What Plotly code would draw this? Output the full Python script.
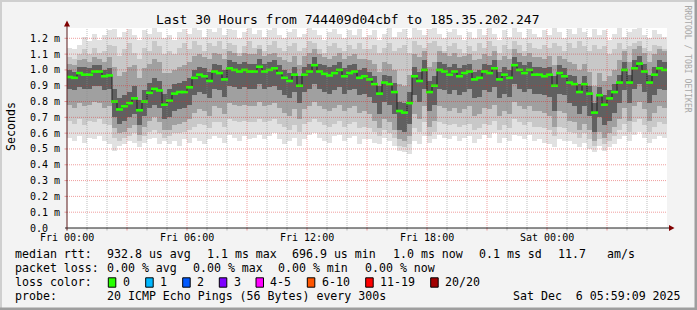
import plotly.graph_objects as go

# ---------------- data (milliseconds), one value per 15-minute step ----------------
step_hours = 0.25
median = [
    0.955, 0.95, 0.98, 0.97, 0.97, 0.99, 0.99, 0.96, 0.965, 0.80, 0.75, 0.77, 0.79, 0.82, 0.745, 0.80, 0.855, 0.88, 0.87, 0.78,
    0.805, 0.85, 0.86, 0.86, 0.89, 0.95, 0.97, 0.96, 0.93, 0.99, 0.98, 0.94, 1.01, 1.00, 0.99, 1.00, 0.99, 0.99, 1.02, 0.99,
    1.00, 1.01, 0.98, 0.95, 0.93, 0.97, 0.90, 0.97, 0.99, 1.03, 0.99, 0.975, 0.965, 0.98, 1.00, 0.96, 0.98, 0.99, 0.95, 0.96,
    0.94, 0.91, 0.85, 0.92, 0.91, 0.86, 0.74, 0.73, 0.79, 0.96, 0.93, 1.00, 0.86, 0.90, 1.00, 0.99, 0.97, 0.99, 0.96, 0.98,
    0.99, 0.94, 0.95, 0.99, 0.98, 1.01, 0.94, 0.97, 0.95, 1.03, 1.00, 0.98, 1.00, 0.97, 0.97, 0.96, 0.97, 0.90, 0.98, 0.96,
    0.92, 0.91, 0.86, 0.91, 0.85, 0.73, 0.84, 0.78, 0.82, 0.86, 0.92, 1.00, 0.92, 1.01, 1.04, 0.99, 0.92, 0.97, 1.01, 1.00,
]
smoke_max = [
    1.14, 1.13, 1.16, 1.21, 1.18, 1.23, 1.19, 1.22, 1.25, 1.26, 1.21, 1.24, 1.26, 1.22, 1.19, 1.25, 1.23, 1.27, 1.24, 1.20,
    1.22, 1.19, 1.24, 1.26, 1.23, 1.27, 1.25, 1.21, 1.26, 1.24, 1.27, 1.22, 1.26, 1.25, 1.20, 1.24, 1.27, 1.23, 1.25, 1.21,
    1.25, 1.27, 1.22, 1.20, 1.24, 1.26, 1.21, 1.23, 1.27, 1.25, 1.22, 1.19, 1.24, 1.26, 1.23, 1.20, 1.25, 1.22, 1.26, 1.21,
    1.22, 1.25, 1.19, 1.23, 1.27, 1.21, 1.24, 1.26, 1.20, 1.27, 1.25, 1.22, 1.26, 1.27, 1.23, 1.20, 1.24, 1.26, 1.22, 1.19,
    1.24, 1.20, 1.26, 1.22, 1.27, 1.23, 1.19, 1.25, 1.21, 1.27, 1.24, 1.20, 1.26, 1.23, 1.21, 1.25, 1.22, 1.27, 1.24, 1.20,
    1.26, 1.23, 1.27, 1.24, 1.21, 1.26, 1.22, 1.25, 1.19, 1.23, 1.27, 1.21, 1.24, 1.26, 1.27, 1.22, 1.20, 1.25, 1.23, 1.21,
]
smoke_hi2 = [
    1.08, 1.07, 1.10, 1.13, 1.10, 1.14, 1.11, 1.12, 1.16, 1.15, 1.09, 1.13, 1.17, 1.11, 1.07, 1.14, 1.12, 1.18, 1.15, 1.10,
    1.12, 1.10, 1.14, 1.17, 1.13, 1.18, 1.16, 1.12, 1.17, 1.15, 1.18, 1.13, 1.17, 1.16, 1.11, 1.15, 1.18, 1.14, 1.16, 1.12,
    1.16, 1.18, 1.14, 1.12, 1.15, 1.17, 1.12, 1.14, 1.18, 1.17, 1.13, 1.11, 1.15, 1.17, 1.14, 1.12, 1.16, 1.13, 1.17, 1.13,
    1.13, 1.16, 1.11, 1.14, 1.17, 1.12, 1.14, 1.16, 1.11, 1.18, 1.16, 1.14, 1.17, 1.18, 1.15, 1.12, 1.15, 1.17, 1.13, 1.11,
    1.15, 1.12, 1.17, 1.14, 1.18, 1.15, 1.11, 1.16, 1.13, 1.18, 1.16, 1.12, 1.17, 1.14, 1.13, 1.16, 1.14, 1.17, 1.15, 1.12,
    1.17, 1.14, 1.18, 1.15, 1.12, 1.16, 1.13, 1.15, 1.10, 1.13, 1.17, 1.13, 1.15, 1.17, 1.18, 1.14, 1.12, 1.16, 1.15, 1.13,
]
smoke_hi3 = [
    1.04, 1.03, 1.06, 1.07, 1.05, 1.08, 1.07, 1.05, 1.08, 1.02, 0.96, 0.99, 1.02, 1.03, 0.95, 1.01, 1.04, 1.07, 1.05, 0.98,
    0.98, 1.00, 1.02, 1.03, 1.05, 1.09, 1.10, 1.08, 1.07, 1.11, 1.10, 1.07, 1.12, 1.11, 1.09, 1.11, 1.10, 1.10, 1.13, 1.09,
    1.10, 1.11, 1.08, 1.06, 1.05, 1.09, 1.03, 1.09, 1.11, 1.13, 1.10, 1.08, 1.07, 1.09, 1.11, 1.07, 1.09, 1.10, 1.07, 1.07,
    1.06, 1.04, 0.99, 1.05, 1.04, 1.00, 0.91, 0.90, 0.97, 1.10, 1.08, 1.12, 1.02, 1.05, 1.12, 1.11, 1.09, 1.11, 1.08, 1.09,
    1.10, 1.06, 1.07, 1.10, 1.09, 1.12, 1.06, 1.09, 1.07, 1.13, 1.11, 1.09, 1.11, 1.08, 1.08, 1.07, 1.09, 1.03, 1.09, 1.07,
    1.05, 1.04, 1.00, 1.04, 0.99, 0.90, 0.98, 0.93, 0.96, 1.00, 1.06, 1.12, 1.05, 1.13, 1.15, 1.11, 1.05, 1.10, 1.13, 1.12,
]
smoke_hi4 = [
    1.00, 0.99, 1.02, 1.02, 1.01, 1.03, 1.03, 1.00, 1.01, 0.88, 0.82, 0.84, 0.86, 0.90, 0.81, 0.87, 0.92, 0.95, 0.93, 0.85,
    0.88, 0.91, 0.92, 0.93, 0.95, 1.00, 1.02, 1.01, 0.99, 1.04, 1.03, 1.00, 1.06, 1.05, 1.04, 1.05, 1.04, 1.04, 1.07, 1.04,
    1.05, 1.06, 1.03, 1.00, 0.98, 1.02, 0.96, 1.02, 1.04, 1.08, 1.04, 1.03, 1.02, 1.03, 1.05, 1.01, 1.03, 1.04, 1.00, 1.01,
    0.99, 0.96, 0.90, 0.97, 0.96, 0.92, 0.80, 0.79, 0.86, 1.02, 0.99, 1.06, 0.93, 0.96, 1.05, 1.04, 1.02, 1.04, 1.01, 1.03,
    1.04, 0.99, 1.00, 1.04, 1.03, 1.06, 0.99, 1.02, 1.00, 1.08, 1.05, 1.03, 1.05, 1.02, 1.02, 1.01, 1.02, 0.96, 1.03, 1.01,
    0.97, 0.96, 0.91, 0.96, 0.90, 0.79, 0.89, 0.84, 0.87, 0.91, 0.97, 1.05, 0.97, 1.06, 1.09, 1.04, 0.97, 1.02, 1.06, 1.05,
]
smoke_lo4 = [
    0.88, 0.87, 0.89, 0.88, 0.88, 0.90, 0.90, 0.87, 0.88, 0.70, 0.66, 0.68, 0.70, 0.72, 0.65, 0.71, 0.76, 0.78, 0.76, 0.69,
    0.70, 0.74, 0.75, 0.76, 0.78, 0.84, 0.86, 0.85, 0.82, 0.88, 0.87, 0.83, 0.90, 0.89, 0.88, 0.89, 0.88, 0.88, 0.91, 0.88,
    0.89, 0.90, 0.87, 0.84, 0.82, 0.86, 0.79, 0.86, 0.88, 0.91, 0.88, 0.86, 0.85, 0.87, 0.89, 0.85, 0.87, 0.88, 0.84, 0.85,
    0.83, 0.79, 0.72, 0.80, 0.78, 0.72, 0.62, 0.61, 0.66, 0.84, 0.80, 0.88, 0.74, 0.78, 0.88, 0.87, 0.85, 0.87, 0.84, 0.86,
    0.88, 0.82, 0.83, 0.87, 0.86, 0.89, 0.82, 0.85, 0.83, 0.91, 0.88, 0.86, 0.88, 0.85, 0.85, 0.84, 0.83, 0.74, 0.85, 0.84,
    0.79, 0.77, 0.72, 0.77, 0.71, 0.61, 0.70, 0.65, 0.68, 0.73, 0.79, 0.87, 0.79, 0.88, 0.91, 0.86, 0.79, 0.84, 0.88, 0.87,
]
smoke_lo3 = [
    0.78, 0.76, 0.79, 0.77, 0.78, 0.80, 0.79, 0.76, 0.77, 0.63, 0.60, 0.61, 0.63, 0.65, 0.59, 0.64, 0.68, 0.70, 0.67, 0.62,
    0.62, 0.65, 0.66, 0.67, 0.69, 0.73, 0.75, 0.74, 0.71, 0.77, 0.76, 0.72, 0.79, 0.78, 0.77, 0.78, 0.77, 0.77, 0.80, 0.77,
    0.78, 0.79, 0.76, 0.73, 0.71, 0.75, 0.69, 0.75, 0.77, 0.80, 0.77, 0.75, 0.74, 0.76, 0.78, 0.74, 0.76, 0.77, 0.73, 0.74,
    0.72, 0.68, 0.63, 0.69, 0.67, 0.62, 0.56, 0.55, 0.58, 0.72, 0.69, 0.77, 0.64, 0.68, 0.77, 0.76, 0.74, 0.76, 0.73, 0.75,
    0.77, 0.71, 0.72, 0.76, 0.75, 0.78, 0.71, 0.74, 0.72, 0.80, 0.77, 0.75, 0.77, 0.74, 0.74, 0.73, 0.71, 0.64, 0.74, 0.73,
    0.68, 0.67, 0.62, 0.66, 0.62, 0.55, 0.61, 0.57, 0.60, 0.64, 0.69, 0.76, 0.68, 0.77, 0.80, 0.75, 0.68, 0.73, 0.77, 0.76,
]
smoke_lo2 = [
    0.68, 0.66, 0.69, 0.65, 0.68, 0.67, 0.69, 0.66, 0.65, 0.57, 0.55, 0.57, 0.58, 0.60, 0.55, 0.58, 0.61, 0.62, 0.60, 0.57,
    0.58, 0.60, 0.60, 0.61, 0.62, 0.64, 0.66, 0.65, 0.63, 0.67, 0.67, 0.64, 0.69, 0.68, 0.67, 0.68, 0.67, 0.67, 0.69, 0.67,
    0.68, 0.69, 0.66, 0.64, 0.62, 0.65, 0.61, 0.66, 0.67, 0.69, 0.67, 0.65, 0.64, 0.66, 0.68, 0.64, 0.66, 0.67, 0.63, 0.64,
    0.63, 0.61, 0.58, 0.62, 0.60, 0.57, 0.52, 0.51, 0.53, 0.63, 0.61, 0.67, 0.58, 0.61, 0.67, 0.66, 0.65, 0.66, 0.64, 0.65,
    0.66, 0.62, 0.63, 0.66, 0.65, 0.68, 0.62, 0.65, 0.63, 0.69, 0.67, 0.65, 0.67, 0.64, 0.64, 0.63, 0.62, 0.58, 0.64, 0.63,
    0.61, 0.60, 0.57, 0.60, 0.56, 0.52, 0.56, 0.53, 0.55, 0.58, 0.62, 0.66, 0.61, 0.67, 0.69, 0.65, 0.61, 0.64, 0.67, 0.66,
]
smoke_min = [
    0.57, 0.55, 0.58, 0.54, 0.57, 0.56, 0.58, 0.55, 0.53, 0.49, 0.52, 0.53, 0.55, 0.54, 0.51, 0.54, 0.56, 0.57, 0.53, 0.55,
    0.53, 0.55, 0.52, 0.56, 0.54, 0.57, 0.55, 0.53, 0.56, 0.58, 0.57, 0.54, 0.59, 0.57, 0.55, 0.58, 0.56, 0.57, 0.59, 0.56,
    0.58, 0.60, 0.56, 0.53, 0.55, 0.57, 0.52, 0.56, 0.59, 0.60, 0.57, 0.55, 0.54, 0.58, 0.59, 0.55, 0.57, 0.58, 0.53, 0.56,
    0.56, 0.54, 0.53, 0.57, 0.55, 0.52, 0.49, 0.48, 0.47, 0.55, 0.53, 0.58, 0.54, 0.56, 0.59, 0.57, 0.56, 0.58, 0.55, 0.57,
    0.58, 0.54, 0.56, 0.59, 0.57, 0.60, 0.54, 0.57, 0.55, 0.59, 0.58, 0.56, 0.59, 0.55, 0.56, 0.54, 0.53, 0.51, 0.56, 0.55,
    0.55, 0.53, 0.51, 0.54, 0.50, 0.48, 0.52, 0.49, 0.51, 0.53, 0.56, 0.58, 0.55, 0.59, 0.61, 0.57, 0.54, 0.56, 0.58, 0.57,
]

x_tick_hours = [0, 6, 12, 18, 24]
x_tick_labels = ["Fri 00:00", "Fri 06:00", "Fri 12:00", "Fri 18:00", "Sat 00:00"]
y_tick_values = [0.0, 0.1, 0.2, 0.3, 0.4, 0.5, 0.6, 0.7, 0.8, 0.9, 1.0, 1.1, 1.2]
y_tick_labels = ["0.0\u00a0\u00a0", "0.1 m", "0.2 m", "0.3 m", "0.4 m", "0.5 m", "0.6 m",
                 "0.7 m", "0.8 m", "0.9 m", "1.0 m", "1.1 m", "1.2 m"]
hours_span = 30

title_text = "Last 30 Hours from 744409d04cbf to 185.35.202.247"
rtt_row = ["median rtt:", "932.8 us avg", "1.1 ms max", "696.9 us min",
           "1.0 ms now", "0.1 ms sd", "11.7", "am/s"]
loss_row = ["packet loss:", "0.00 % avg", "0.00 % max", "0.00 % min", "0.00 % now"]
loss_labels = ["0", "1", "2", "3", "4-5", "6-10", "11-19", "20/20"]
loss_colors = ["#26ff00", "#00b8ff", "#0059ff", "#7e00ff", "#ff00ff", "#ff5500", "#ff0000", "#a10000"]
probe_row = ["probe:", "20 ICMP Echo Pings (56 Bytes) every 300s",
             "Sat Dec\u00a0\u00a06 05:59:09 2025"]

# ---------------- layout geometry (pixels) ----------------
W, H = 697, 310
L, R, T, B = 67, 30, 28, 82
PW, PH = W - L - R, H - T - B
YMAX = 1.2 * PH / (H - B - 38.3)
MONO = "DejaVu Sans Mono"


def px(x):
    return (x - L) / PW


def py(y):
    return (H - B - y) / PH


t = [(k + 0.5) * step_hours for k in range(len(median))]

fig = go.Figure()
bands = [
    (smoke_max, smoke_min, "#e1e1e1"),
    (smoke_hi2, smoke_lo2, "#c8c8c8"),
    (smoke_hi3, smoke_lo3, "#a0a0a0"),
    (smoke_hi4, smoke_lo4, "#606060"),
]
for hi, lo, col in bands:
    fig.add_trace(go.Bar(
        x=t, y=[h - l for h, l in zip(hi, lo)], base=lo, width=step_hours,
        marker=dict(color=col, line=dict(width=0)), hoverinfo="skip", showlegend=False))

fig.add_trace(go.Scatter(x=t, y=median, mode="lines",
                         line=dict(color="#202020", width=1, shape="hvh"),
                         hoverinfo="skip", showlegend=False))
fig.add_trace(go.Scatter(x=t, y=median, mode="markers",
                         marker=dict(symbol="line-ew", size=5,
                                     line=dict(color=loss_colors[0], width=2.6)),
                         hoverinfo="skip", showlegend=False))

shapes = []
MINOR = "rgba(140,140,140,0.55)"
MAJOR = "rgba(220,40,40,0.45)"
for h in range(1, hours_span):
    col = MAJOR if h % 3 == 0 else MINOR
    shapes.append(dict(type="line", xref="x", yref="paper", x0=h, x1=h, y0=0, y1=1,
                       line=dict(color=col, width=1, dash="1px,1px"), layer="above"))
    shapes.append(dict(type="line", xref="x", yref="paper", x0=h, x1=h, y0=0, y1=py(230.5),
                       line=dict(color=col, width=1), layer="above"))
for v in y_tick_values[1:]:
    shapes.append(dict(type="line", xref="paper", yref="y", x0=0, x1=1, y0=v, y1=v,
                       line=dict(color=MAJOR, width=1, dash="1px,1px"), layer="above"))
    shapes.append(dict(type="line", xref="paper", yref="y", x0=px(64.5), x1=0, y0=v, y1=v,
                       line=dict(color=MAJOR, width=1), layer="above"))

# axes + arrows
shapes.append(dict(type="line", xref="paper", yref="paper", x0=px(65), x1=px(670), y0=0, y1=0,
                   line=dict(color="#202020", width=1), layer="above"))
shapes.append(dict(type="line", xref="paper", yref="paper", x0=0, x1=0, y0=py(230.5), y1=py(24),
                   line=dict(color="#5a1818", width=1), layer="above"))
shapes.append(dict(type="path", xref="paper", yref="paper",
                   path=f"M {px(669)} {py(225)} L {px(674.5)} {py(228)} L {px(669)} {py(231)} Z",
                   fillcolor="#800000", line=dict(width=0), layer="above"))
shapes.append(dict(type="path", xref="paper", yref="paper",
                   path=f"M {px(64)} {py(26.5)} L {px(67)} {py(20.5)} L {px(70)} {py(26.5)} Z",
                   fillcolor="#800000", line=dict(width=0), layer="above"))

# frame shading
shapes += [
    dict(type="rect", xref="paper", yref="paper", x0=px(0), x1=px(W), y0=py(0), y1=py(2),
         fillcolor="#cfcfcf", line=dict(width=0), layer="below"),
    dict(type="rect", xref="paper", yref="paper", x0=px(0), x1=px(2), y0=py(0), y1=py(H),
         fillcolor="#cfcfcf", line=dict(width=0), layer="below"),
    dict(type="rect", xref="paper", yref="paper", x0=px(694.5), x1=px(W), y0=py(0), y1=py(H),
         fillcolor="#9e9e9e", line=dict(width=0), layer="below"),
    dict(type="rect", xref="paper", yref="paper", x0=px(0), x1=px(W), y0=py(307.5), y1=py(H),
         fillcolor="#9e9e9e", line=dict(width=0), layer="below"),
]

ann = []


def text(x, y, s, size, xanchor="left", color="#000000", angle=0):
    ann.append(dict(xref="paper", yref="paper", x=px(x), y=py(y), text=s, showarrow=False,
                    xanchor=xanchor, yanchor="middle", textangle=angle,
                    font=dict(family=MONO, size=size, color=color),
                    borderpad=0, borderwidth=0))


text(347.7, 19, title_text, 13, "center")
text(11, 127, "Seconds", 11.6, "center", angle=-90)
text(687.5, 59, "RRDTOOL / TOBI OETIKER", 8.1, "center", color="#a8a8a8", angle=90)

for v, lab in zip(y_tick_values, y_tick_labels):
    ann.append(dict(xref="paper", yref="y", x=px(60), y=v, text=lab, showarrow=False,
                    xanchor="right", yanchor="middle", font=dict(family=MONO, size=10, color="#000"),
                    borderpad=0, borderwidth=0))
for h, lab in zip(x_tick_hours, x_tick_labels):
    ann.append(dict(xref="x", yref="paper", x=h, y=py(237.7), text=lab, showarrow=False,
                    xanchor="center", yanchor="middle", font=dict(family=MONO, size=10, color="#000"),
                    borderpad=0, borderwidth=0))

LEG = 11.6
for s, x in zip(rtt_row, [16, 107.3, 207.3, 292.7, 393.3, 479.3, 558.7, 607.3]):
    text(x - 0.7, 254.3, s, LEG)
for s, x in zip(loss_row, [16, 107.3, 193.3, 278.7, 365.3]):
    text(x - 0.7, 268.3, s, LEG)
text(16 - 0.7, 282.3, "loss color:", LEG)
box_x = [108.3, 145.7, 182.7, 219.3, 256, 307.3, 365.7, 430.7]
for lab, col, bx in zip(loss_labels, loss_colors, box_x):
    shapes.append(dict(type="rect", xref="paper", yref="paper", x0=px(bx), x1=px(bx + 7.5),
                       y0=py(277.8), y1=py(287.2), fillcolor=col,
                       line=dict(color="#000000", width=1), layer="above"))
    text(bx + 15 - 0.7, 282.3, lab, LEG)
for s, x in zip(probe_row, [16, 107.3, 513.3]):
    text(x - 0.7, 296, s, LEG)

fig.update_layout(
    width=W, height=H,
    margin=dict(l=L, r=R, t=T, b=B, pad=0),
    paper_bgcolor="#f3f3f3", plot_bgcolor="#ffffff",
    barmode="overlay", bargap=0,
    showlegend=False, hovermode=False,
    xaxis=dict(range=[0, hours_span], showgrid=False, zeroline=False, showline=False,
               showticklabels=False, ticks="", fixedrange=True),
    yaxis=dict(range=[0, YMAX], showgrid=False, zeroline=False, showline=False,
               showticklabels=False, ticks="", fixedrange=True),
    shapes=shapes, annotations=ann,
)

fig.write_html("out.html", config={"displayModeBar": False})
